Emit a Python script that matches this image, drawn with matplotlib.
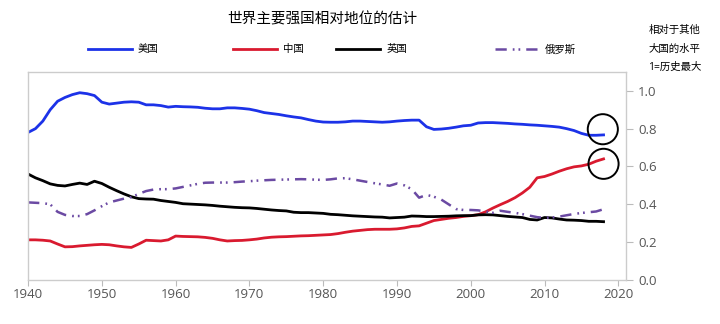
import matplotlib
matplotlib.use("Agg")
import matplotlib.pyplot as plt

plt.rcParams['font.family'] = ['Open Sans', 'Noto Sans CJK SC', 'DejaVu Sans']

years = list(range(1940, 2019))

usa = [0.78, 0.80, 0.84, 0.90, 0.945, 0.965, 0.98, 0.99, 0.985, 0.975,
       0.94, 0.93, 0.935, 0.94, 0.942, 0.94, 0.926, 0.926, 0.922, 0.914,
       0.918, 0.916, 0.915, 0.913, 0.908, 0.905, 0.905, 0.91, 0.91, 0.907,
       0.903, 0.895, 0.885, 0.88, 0.875, 0.868, 0.862, 0.857, 0.848, 0.840,
       0.835, 0.834, 0.834, 0.836, 0.84, 0.84, 0.838, 0.836, 0.834, 0.836,
       0.84, 0.843, 0.845, 0.845, 0.81, 0.796, 0.798, 0.802, 0.808, 0.815,
       0.818, 0.83, 0.832, 0.832, 0.83, 0.828, 0.825, 0.823, 0.82, 0.818,
       0.815, 0.812, 0.808, 0.80, 0.79, 0.775, 0.765, 0.765, 0.767]

china = [0.212, 0.212, 0.21, 0.206, 0.19, 0.175, 0.176, 0.18, 0.183, 0.186,
         0.188, 0.186, 0.18, 0.175, 0.172, 0.19, 0.21, 0.208, 0.206, 0.212,
         0.232, 0.23, 0.229, 0.228, 0.225, 0.22, 0.212, 0.206, 0.208, 0.209,
         0.212, 0.216, 0.222, 0.226, 0.228, 0.229, 0.231, 0.233, 0.234, 0.236,
         0.238, 0.24, 0.245, 0.252, 0.258, 0.262, 0.266, 0.268, 0.268, 0.268,
         0.27, 0.275, 0.283, 0.286, 0.30, 0.314, 0.32, 0.326, 0.33, 0.336,
         0.34, 0.345, 0.36, 0.38, 0.398, 0.415, 0.435, 0.46, 0.49, 0.54,
         0.547, 0.56, 0.575, 0.588, 0.598, 0.603, 0.612, 0.628, 0.64]

uk = [0.56, 0.54, 0.525, 0.508, 0.50, 0.497, 0.505, 0.512, 0.505, 0.522,
      0.51, 0.49, 0.472, 0.455, 0.44, 0.43, 0.428, 0.427, 0.42, 0.415,
      0.41, 0.403, 0.401, 0.399, 0.397, 0.394, 0.39, 0.387, 0.384, 0.382,
      0.381, 0.378, 0.374, 0.37, 0.367, 0.365, 0.358, 0.356, 0.356, 0.354,
      0.352, 0.347, 0.345, 0.342, 0.339, 0.337, 0.335, 0.333, 0.332, 0.328,
      0.33, 0.332, 0.338, 0.337, 0.335, 0.335, 0.336, 0.337, 0.339, 0.34,
      0.34, 0.344, 0.345, 0.344, 0.34, 0.336, 0.333, 0.33, 0.32, 0.317,
      0.33, 0.328, 0.322, 0.317, 0.316, 0.314, 0.31, 0.31, 0.308]

russia = [0.41, 0.408, 0.406, 0.40, 0.36, 0.344, 0.338, 0.338, 0.348, 0.368,
          0.39, 0.41, 0.42, 0.43, 0.438, 0.455, 0.47, 0.478, 0.48, 0.48,
          0.484, 0.492, 0.50, 0.508, 0.514, 0.515, 0.515, 0.515, 0.517, 0.52,
          0.522, 0.525, 0.527, 0.529, 0.53, 0.531, 0.532, 0.533, 0.532, 0.53,
          0.529, 0.532, 0.537, 0.538, 0.532, 0.525, 0.518, 0.511, 0.505, 0.498,
          0.51, 0.50, 0.48, 0.435, 0.45, 0.44, 0.425, 0.40, 0.375, 0.37,
          0.37, 0.368, 0.362, 0.355, 0.366, 0.36, 0.355, 0.348, 0.34, 0.332,
          0.328, 0.33, 0.335, 0.342, 0.349, 0.354, 0.358, 0.362, 0.374]

labels = ['美国', '中国', '英国', '俄罗斯']
colors = ['#1c32e8', '#d91a2f', '#000000', '#6b4aa3']

# circled end points (year, value)
circle_x = [2017.9, 2018.0]
circle_y = [0.797, 0.614]

fig = plt.figure(figsize=(7.2, 3.24), dpi=100)
ax = fig.add_axes([0.039, 0.136, 0.83, 0.642])

series = [usa, china, uk, russia]
handles = []
for vals, lab, col in zip(series, labels, colors):
    if lab == '俄罗斯':
        # long dash followed by two dots
        h, = ax.plot(years, vals, color=col, lw=1.8, label=lab,
                     linestyle=(0, (4.5, 2.4, 0.7, 1.6, 0.7, 2.4)))
    else:
        h, = ax.plot(years, vals, color=col, lw=2.0, label=lab)
    handles.append(h)

ax.scatter(circle_x, circle_y, s=470, facecolors='none', edgecolors='black',
           linewidths=1.4, zorder=5)

ax.set_xlim(1940, 2021)
ax.set_ylim(0, 1.1)
ax.set_xticks(range(1940, 2021, 10))
ax.set_yticks([0.0, 0.2, 0.4, 0.6, 0.8, 1.0])
ax.set_yticklabels(['0.0', '0.2', '0.4', '0.6', '0.8', '1.0'])
ax.yaxis.tick_right()
ax.tick_params(axis='y', length=5, color='#bbbbbb', labelsize=9.5,
               labelcolor='#555555', pad=4)
ax.tick_params(axis='x', length=4, color='#bbbbbb', labelsize=9.5,
               labelcolor='#555555', pad=2)
for sp in ax.spines.values():
    sp.set_color('#cccccc')
    sp.set_linewidth(1.0)

fig.text(0.447, 0.938, '世界主要强国相对地位的估计', ha='center', va='center',
         fontsize=10.5)

# separate legend entries, spaced like the original
leg_x = [0.122, 0.324, 0.467, 0.687]
for h, lab, lx in zip(handles, labels, leg_x):
    fig.legend(handles=[h], labels=[lab], loc='center left',
               bbox_to_anchor=(lx, 0.846), frameon=False, fontsize=7.5,
               handlelength=4.2, handletextpad=0.6, borderaxespad=0,
               borderpad=0)

fig.text(0.937, 0.905, '相对于其他', ha='center', va='center', fontsize=7.5)
fig.text(0.937, 0.848, '大国的水平', ha='center', va='center', fontsize=7.5)
fig.text(0.937, 0.793, '1=历史最大', ha='center', va='center', fontsize=7.5)

fig.savefig('out.png', dpi=100)
